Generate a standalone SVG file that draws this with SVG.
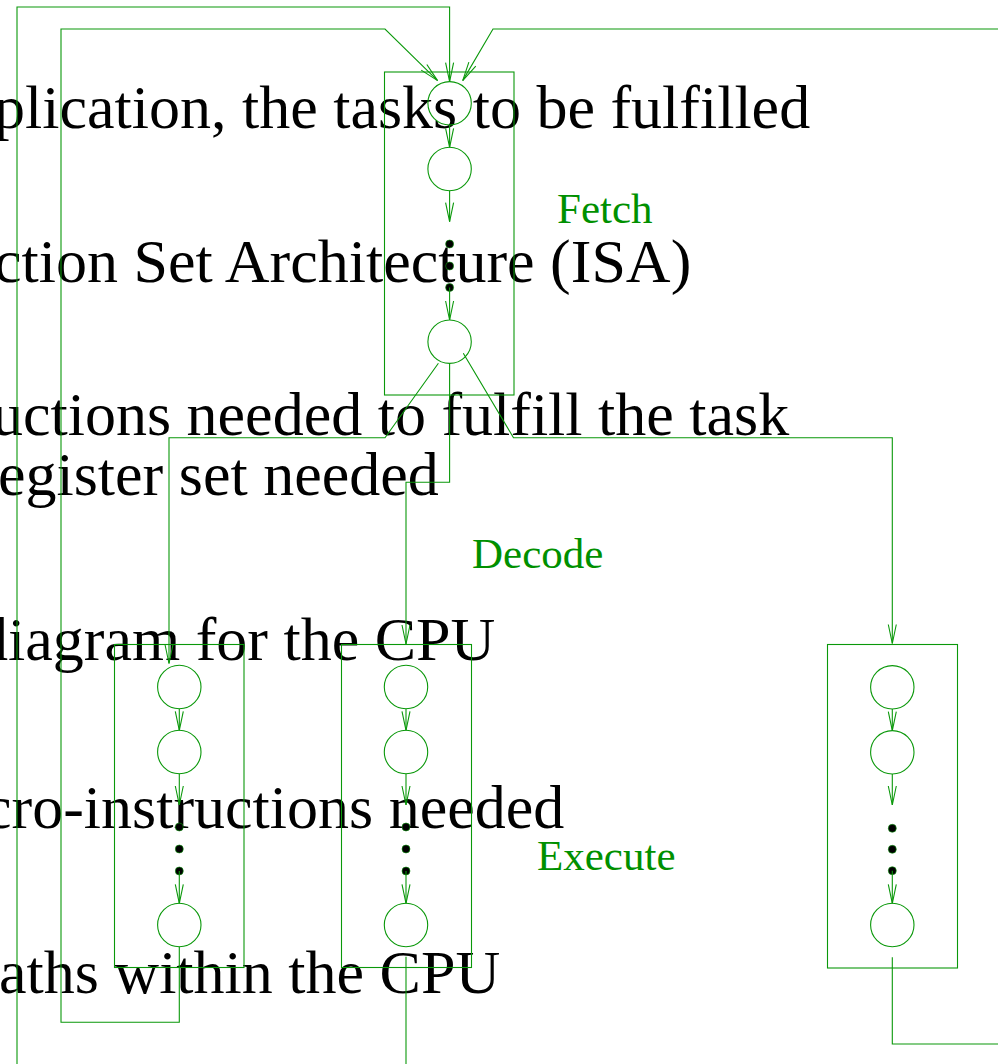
<svg xmlns="http://www.w3.org/2000/svg" width="998" height="1064" viewBox="0 0 998 1064">
<style>
.big{font-family:"Liberation Serif","Times New Roman",serif;font-size:62px;fill:#000}
.lbl{font-family:"Liberation Serif","Times New Roman",serif;font-size:43px;fill:#009000}
.ln{fill:none;stroke:#0a980a;stroke-width:1.1}
.box{fill:none;stroke:#0a980a;stroke-width:1.1}
.st{fill:none;stroke:#0a980a;stroke-width:1.1}
.dot{fill:#000;stroke:#0a980a;stroke-width:0.6}
</style>
<defs>
<marker id="ah" viewBox="-21 -6 23 12" refX="0" refY="0" markerWidth="23" markerHeight="12" markerUnits="userSpaceOnUse" orient="auto">
<path d="M-19,-4 L0,0 L-19,4" fill="none" stroke="#0a980a" stroke-width="1.1"/>
</marker>
</defs>
<rect width="998" height="1064" fill="#fff"/>
<g id="texts">
<text class="big" x="-6" y="128">plication, the tasks to be fulfilled</text>
<text class="big" x="-6" y="282">ction Set Architecture (ISA)</text>
<text class="big" x="-8" y="435">uctions needed to fulfill the task</text>
<text class="big" x="-2" y="495">egister set needed</text>
<text class="big" x="-23" y="660">diagram for the CPU</text>
<text class="big" x="-16" y="828">cro-instructions needed</text>
<text class="big" x="-1" y="993">aths within the CPU</text>
<text class="lbl" x="557" y="223">Fetch</text>
<text class="lbl" x="472" y="568">Decode</text>
<text class="lbl" x="537" y="870">Execute</text>
</g>
<g id="fetch">
<rect class="box" x="384.5" y="72" width="129.5" height="323"/>
<circle class="st" cx="449.6" cy="103.3" r="21.7"/>
<circle class="st" cx="449.6" cy="169" r="21.7"/>
<circle class="dot" cx="449.6" cy="244" r="4"/>
<circle class="dot" cx="449.6" cy="266" r="4"/>
<circle class="dot" cx="449.6" cy="287.5" r="4"/>
<circle class="st" cx="449.6" cy="341.7" r="21.7"/>
</g>
<g id="exec1">
<rect class="box" x="114.5" y="644.5" width="129.5" height="323"/>
<circle class="st" cx="179.3" cy="687" r="21.7"/>
<circle class="st" cx="179.3" cy="752" r="21.7"/>
<circle class="dot" cx="179.3" cy="827" r="4"/>
<circle class="dot" cx="179.3" cy="849" r="4"/>
<circle class="dot" cx="179.3" cy="871" r="4"/>
<circle class="st" cx="179.3" cy="925" r="21.7"/>
</g>
<g id="exec2">
<rect class="box" x="341.5" y="644.5" width="130" height="323"/>
<circle class="st" cx="406" cy="687" r="21.7"/>
<circle class="st" cx="406" cy="752" r="21.7"/>
<circle class="dot" cx="406" cy="827" r="4"/>
<circle class="dot" cx="406" cy="849" r="4"/>
<circle class="dot" cx="406" cy="871" r="4"/>
<circle class="st" cx="406" cy="925" r="21.7"/>
</g>
<g id="exec3">
<rect class="box" x="827.5" y="644.5" width="130" height="323.5"/>
<circle class="st" cx="892.3" cy="687.3" r="21.7"/>
<circle class="st" cx="892.3" cy="752.3" r="21.7"/>
<circle class="dot" cx="892.3" cy="828.3" r="4"/>
<circle class="dot" cx="892.3" cy="849.3" r="4"/>
<circle class="dot" cx="892.3" cy="870.7" r="4"/>
<circle class="st" cx="892.3" cy="925" r="21.7"/>
</g>
<g id="connectors">
<path class="ln" d="M17,1064 V7 H449.6 V81.6" marker-end="url(#ah)"/>
<path class="ln" d="M179.3,946.7 V1022.3 H61 V29 H385 L437.6,80.6" marker-end="url(#ah)"/>
<path class="ln" d="M998,29 H493 L462.7,80.6" marker-end="url(#ah)"/>
<path class="ln" d="M449.6,125 V147.3" marker-end="url(#ah)"/>
<path class="ln" d="M449.6,190.7 V221.7" marker-end="url(#ah)"/>
<path class="ln" d="M449.6,287.5 V320" marker-end="url(#ah)"/>
<path class="ln" d="M438.4,363.3 L385,437.7 H169 V663.5" marker-end="url(#ah)"/>
<path class="ln" d="M449.6,363.4 V482.3 H406 V644" marker-end="url(#ah)"/>
<path class="ln" d="M463.3,353.3 L513.5,437.7 H892.3 V643.5" marker-end="url(#ah)"/>
<path class="ln" d="M179.3,708.7 V730.3" marker-end="url(#ah)"/>
<path class="ln" d="M179.3,773.7 V805" marker-end="url(#ah)"/>
<path class="ln" d="M179.3,871 V903.3" marker-end="url(#ah)"/>
<path class="ln" d="M406,708.7 V730.3" marker-end="url(#ah)"/>
<path class="ln" d="M406,773.7 V805" marker-end="url(#ah)"/>
<path class="ln" d="M406,871 V903.3" marker-end="url(#ah)"/>
<path class="ln" d="M406,956.7 V1064"/>
<path class="ln" d="M892.3,709 V730.6" marker-end="url(#ah)"/>
<path class="ln" d="M892.3,774 V805" marker-end="url(#ah)"/>
<path class="ln" d="M892.3,870.7 V903.3" marker-end="url(#ah)"/>
<path class="ln" d="M892.3,957.3 V1044 H998"/>
</g>
</svg>
